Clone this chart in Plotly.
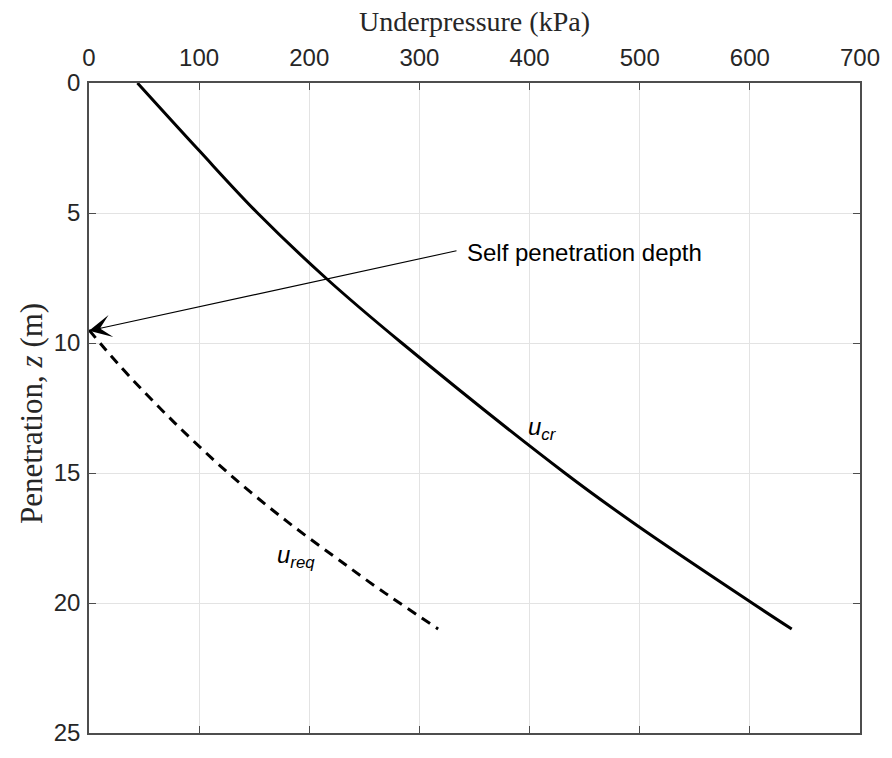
import plotly.graph_objects as go

# u_cr curve (kPa vs depth m)
z_cr = [0, 2.6, 5, 7.5, 10, 15, 17, 20, 21]
u_cr = [44, 100, 153, 215, 284, 432, 497, 602, 638]

# u_req curve
z_req = [9.5, 10.2, 11.25, 13.08, 15.04, 16.87, 18.5, 19.33, 20.0, 21.0]
u_req = [0, 14, 36, 78, 127.5, 180, 232, 259, 282, 317]

x_ticks = [0, 100, 200, 300, 400, 500, 600, 700]
y_ticks = [0, 5, 10, 15, 20, 25]

self_pen_depth = 9.53
arrow_tail = (335, 6.44)

sans = "Liberation Sans, Arial, sans-serif"
serif = "Liberation Serif, Times New Roman, serif"

fig = go.Figure()
fig.add_trace(go.Scatter(x=u_cr, y=z_cr, mode="lines",
                         line=dict(color="black", width=3, shape="spline", smoothing=1.0),
                         showlegend=False, hoverinfo="skip"))
fig.add_trace(go.Scatter(x=u_req, y=z_req, mode="lines",
                         line=dict(color="black", width=3, dash="10px,7px", shape="spline", smoothing=1.0),
                         showlegend=False, hoverinfo="skip"))

fig.add_annotation(x=0, y=self_pen_depth, ax=arrow_tail[0], ay=arrow_tail[1], axref="x", ayref="y",
                   xref="x", yref="y", text="", showarrow=True, arrowhead=3, arrowsize=3.4,
                   arrowwidth=1.1, arrowcolor="black", standoff=0)
fig.add_annotation(x=341, y=6.5, xref="x", yref="y", text="Self penetration depth", showarrow=False,
                   xanchor="left", yanchor="middle", font=dict(family=sans, size=24, color="black"))
fig.add_annotation(x=397, y=13.3, xref="x", yref="y", text="<i>u</i><sub><i>cr</i></sub>", showarrow=False,
                   xanchor="left", yanchor="middle", font=dict(family=sans, size=24, color="black"))
fig.add_annotation(x=169, y=18.2, xref="x", yref="y", text="<i>u</i><sub><i>req</i></sub>", showarrow=False,
                   xanchor="left", yanchor="middle", font=dict(family=sans, size=24, color="black"))
# y-axis title
fig.add_annotation(x=-0.0736, y=0.491, xref="paper", yref="paper", text="Penetration, <i>z</i> (m)",
                   textangle=-90, showarrow=False, xanchor="center", yanchor="middle",
                   font=dict(family=serif, size=31, color="#262626"))

axis_common = dict(showgrid=True, gridcolor="#e3e3e3", gridwidth=1, showline=True, linecolor="#4d4d4d",
                   linewidth=1.5, mirror="ticks", ticks="inside", ticklen=7, tickcolor="#4d4d4d",
                   tickfont=dict(family=sans, size=24, color="#262626"), zeroline=False)

fig.update_xaxes(range=[0, 700], tickvals=x_ticks, side="top", ticklabelstandoff=6,
                 title=dict(text="Underpressure (kPa)", font=dict(family=serif, size=28, color="#262626"),
                            standoff=4), **axis_common)
fig.update_yaxes(range=[25, 0], tickvals=y_ticks, ticklabelstandoff=2, **axis_common)

fig.update_layout(width=892, height=758, margin=dict(l=89, r=29, t=83, b=15),
                  plot_bgcolor="white", paper_bgcolor="white")

fig.write_html("out.html")
